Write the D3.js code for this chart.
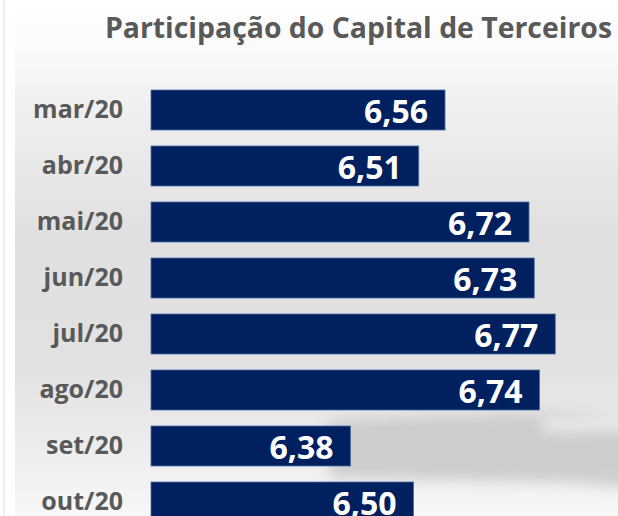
<!DOCTYPE html>
<html>
<head>
<meta charset="utf-8">
<script src="https://cdn.jsdelivr.net/npm/d3@7/dist/d3.min.js"></script>
<style>
html,body{margin:0;padding:0;background:#fff;}
svg{display:block;}
</style>
</head>
<body>
<svg id="chart" width="618" height="516"></svg>
<script>
const title = "Participação do Capital de Terceiros";
const categories = ["mar/20","abr/20","mai/20","jun/20","jul/20","ago/20","set/20","out/20"];
const values = [6.56, 6.51, 6.72, 6.73, 6.77, 6.74, 6.38, 6.50];
const valueLabels = ["6,56","6,51","6,72","6,73","6,77","6,74","6,38","6,50"];

const W = 618, H = 516;
const svg = d3.select("#chart");
const defs = svg.append("defs");

const grad = defs.append("linearGradient").attr("id","bg").attr("x1",0).attr("y1",0).attr("x2",0).attr("y2",1);
[[0,"#ffffff"],[0.1,"#fafafa"],[0.2,"#f0f0f0"],[0.45,"#e0e0e0"],[0.7,"#e1e1e1"],[0.85,"#ebebeb"],[1,"#f7f7f7"]]
  .forEach(([o,c]) => grad.append("stop").attr("offset",o).attr("stop-color",c));

const blur = defs.append("filter").attr("id","blur").attr("x","-20%").attr("y","-50%").attr("width","140%").attr("height","200%");
blur.append("feGaussianBlur").attr("stdDeviation",7);

svg.append("rect").attr("x",0).attr("y",0).attr("width",W).attr("height",H).attr("fill","#fff");
svg.append("rect").attr("x",15).attr("y",0).attr("width",W-15).attr("height",H).attr("fill","url(#bg)");
svg.append("line").attr("x1",4).attr("x2",4).attr("y1",0).attr("y2",H).attr("stroke","#f0f0f0").attr("stroke-width",2);

// soft shadow
svg.append("path")
  .attr("d","M330,420 L560,412 L640,420 L640,488 L560,482 L330,478 Z")
  .attr("fill","#c8c8c8").attr("opacity",0.85).attr("filter","url(#blur)");
svg.append("path")
  .attr("d","M540,418 L640,414 L640,430 L545,432 Z")
  .attr("fill","#ececec").attr("filter","url(#blur)");

const x = d3.scaleLinear().domain([6, 7]).range([151, 676]);
const y = d3.scaleBand().domain(categories).range([90, 522]).paddingInner(16/56).paddingOuter(0);

const data = categories.map((c,i) => ({c, v: values[i], l: valueLabels[i]}));

svg.append("text")
  .attr("x", 612).attr("y", 38)
  .attr("text-anchor","end")
  .attr("font-family","'Open Sans', sans-serif")
  .attr("font-weight","bold")
  .attr("font-size", 28.4)
  .attr("fill","#595959")
  .text(title);

svg.selectAll("rect.bar").data(data).enter().append("rect")
  .attr("class","bar")
  .attr("x", x(6))
  .attr("y", d => y(d.c))
  .attr("width", d => x(d.v) - x(6))
  .attr("height", y.bandwidth())
  .attr("fill","#002060")
  .attr("stroke","#4f6f9f").attr("stroke-width",0.8);

svg.selectAll("text.cat").data(data).enter().append("text")
  .attr("class","cat")
  .attr("x", 123)
  .attr("y", d => y(d.c) + 28)
  .attr("text-anchor","end")
  .attr("font-family","'Open Sans', sans-serif")
  .attr("font-weight","bold")
  .attr("font-size", 25)
  .attr("fill","#595959")
  .text(d => d.c);

svg.selectAll("text.val").data(data).enter().append("text")
  .attr("class","val")
  .attr("x", d => x(d.v) - 17)
  .attr("y", d => y(d.c) + 33)
  .attr("text-anchor","end")
  .attr("font-family","'Open Sans', sans-serif")
  .attr("font-weight","bold")
  .attr("font-size", 32)
  .attr("fill","#ffffff")
  .text(d => d.l);
</script>
</body>
</html>
